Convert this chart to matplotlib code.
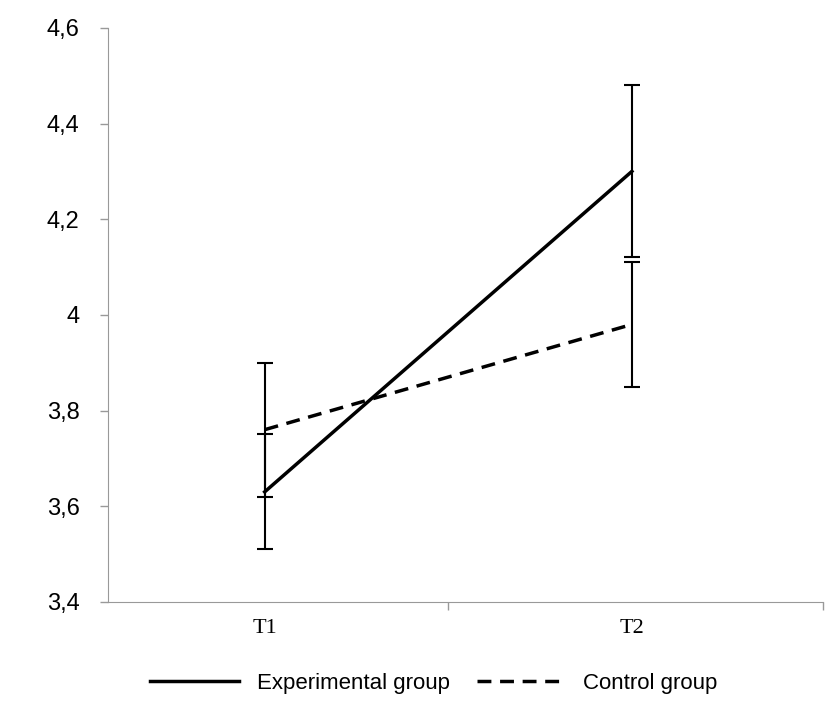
import numpy as np
import matplotlib
matplotlib.use('Agg')
import matplotlib.pyplot as plt

times = ['T1', 'T2']
exp_mean = [3.63, 4.30]
exp_err = [0.12, 0.18]
ctl_mean = [3.76, 3.98]
ctl_err = [0.14, 0.13]
yticks = [3.4, 3.6, 3.8, 4.0, 4.2, 4.4, 4.6]
ylabels = ['3,4', '3,6', '3,8', '4', '4,2', '4,4', '4,6']

fig = plt.figure(figsize=(8.27, 7.14), dpi=100)
ax = fig.add_axes([0.13, 0.157, 0.865, 0.804])
xs = np.array([1, 2])

ax.errorbar(xs, exp_mean, yerr=exp_err, color='black', lw=2.5, elinewidth=1.5,
            capsize=6, capthick=1.5, label='Experimental group')
ax.errorbar(xs, ctl_mean, yerr=ctl_err, color='black', lw=2.5, ls='--', dashes=(4, 2.5),
            elinewidth=1.5, capsize=6, capthick=1.5, label='Control group')

ax.set_xlim(0.572, 2.52)
ax.set_ylim(3.4, 4.6)
ax.set_yticks(yticks)
ax.set_yticklabels(ylabels, fontsize=17, fontfamily='Liberation Sans')
ax.set_xticks(xs)
ax.set_xticklabels(times, fontsize=16, fontfamily='Liberation Serif')
ax.set_xticks([1.5, 2.52], minor=True)
ax.tick_params(axis='x', which='major', length=0, pad=12)
ax.tick_params(axis='x', which='minor', length=6, width=1, color='#999999')
ax.tick_params(axis='y', length=6, width=1, color='#999999', pad=14)
for s in ['top', 'right']:
    ax.spines[s].set_visible(False)
for s in ['left', 'bottom']:
    ax.spines[s].set_color('#999999')

h, l = ax.get_legend_handles_labels()
h = [x[0] for x in h]
fig.legend(h, l, loc='lower center', bbox_to_anchor=(0.525, 0.0), ncol=2, frameon=False,
           prop={'family': 'Liberation Sans', 'size': 16}, handlelength=4, columnspacing=1.2)

plt.savefig('out.png')
plt.close()
